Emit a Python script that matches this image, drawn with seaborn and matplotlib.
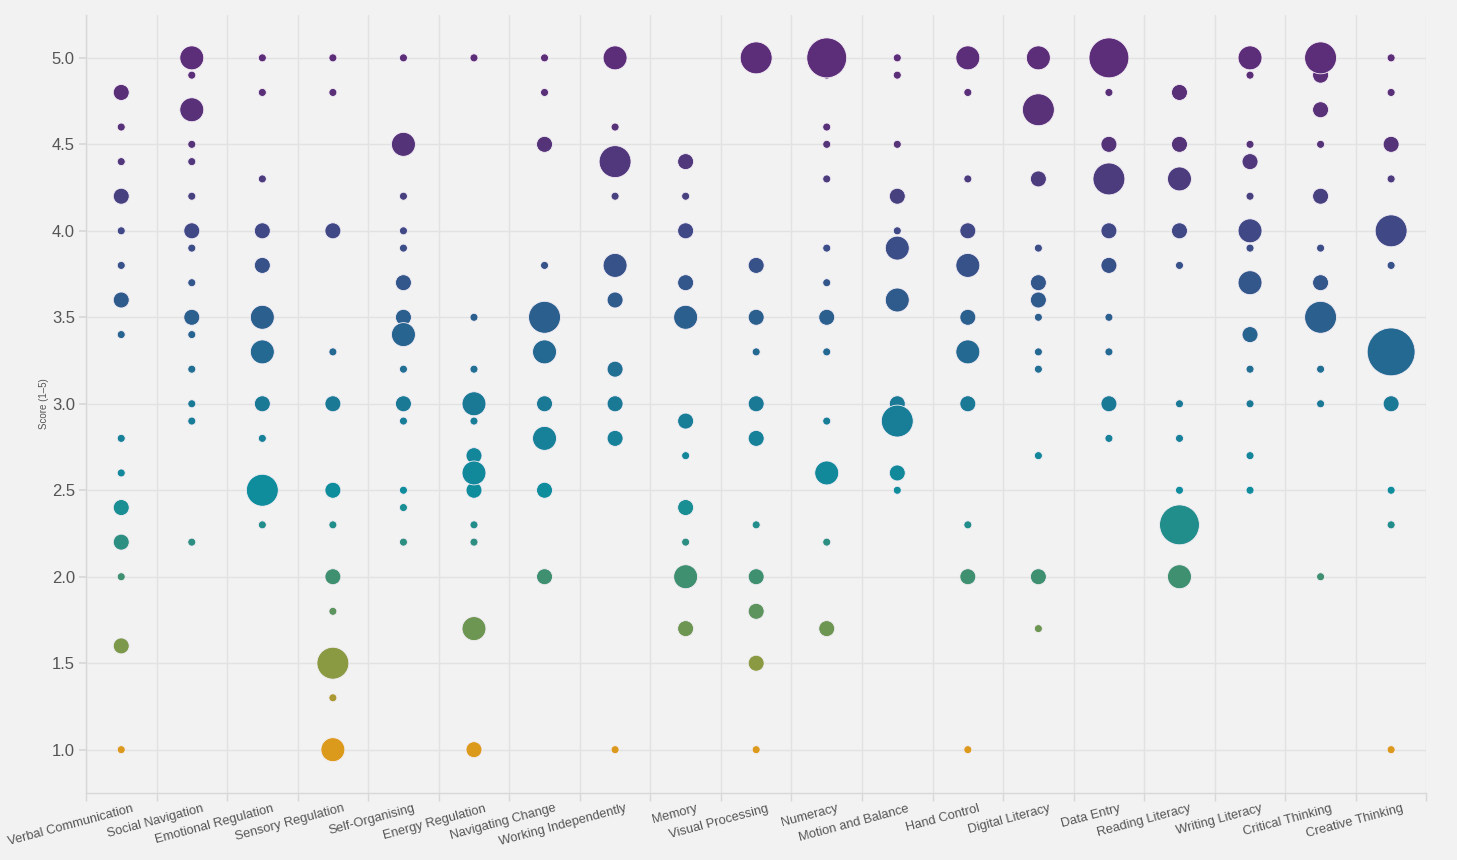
import matplotlib
matplotlib.use("Agg")
import matplotlib.pyplot as plt
import matplotlib.transforms as mtransforms
from matplotlib.colors import LinearSegmentedColormap
from matplotlib.ticker import FixedLocator
import pandas as pd
import seaborn as sns

# skill categories in x order
categories = [
    "Verbal Communication", "Social Navigation", "Emotional Regulation",
    "Sensory Regulation", "Self-Organising", "Energy Regulation",
    "Navigating Change", "Working Independently", "Memory",
    "Visual Processing", "Numeracy", "Motion and Balance", "Hand Control",
    "Digital Literacy", "Data Entry", "Reading Literacy", "Writing Literacy",
    "Critical Thinking", "Creative Thinking",
]

# scores seen in each category (one list per category)
scores = [
    [4.8, 4.6, 4.4, 4.2, 4.0, 3.8, 3.6, 3.4, 2.8, 2.6, 2.4, 2.2, 2.0, 1.6, 1.0],
    [5.0, 4.9, 4.7, 4.5, 4.4, 4.2, 4.0, 3.9, 3.7, 3.5, 3.4, 3.2, 3.0, 2.9, 2.2],
    [5.0, 4.8, 4.3, 4.0, 3.8, 3.5, 3.3, 3.0, 2.8, 2.5, 2.3],
    [5.0, 4.8, 4.0, 3.3, 3.0, 2.5, 2.3, 2.0, 1.8, 1.5, 1.3, 1.0],
    [5.0, 4.5, 4.2, 4.0, 3.9, 3.7, 3.5, 3.4, 3.2, 3.0, 2.9, 2.5, 2.4, 2.2],
    [5.0, 3.5, 3.2, 3.0, 2.9, 2.7, 2.6, 2.5, 2.3, 2.2, 1.7, 1.0],
    [5.0, 4.8, 4.5, 3.8, 3.5, 3.3, 3.0, 2.8, 2.5, 2.0],
    [5.0, 4.6, 4.4, 4.2, 3.8, 3.6, 3.2, 3.0, 2.8, 1.0],
    [4.4, 4.2, 4.0, 3.7, 3.5, 2.9, 2.7, 2.4, 2.2, 2.0, 1.7],
    [5.0, 3.8, 3.5, 3.3, 3.0, 2.8, 2.3, 2.0, 1.8, 1.5, 1.0],
    [5.0, 4.9, 4.6, 4.5, 4.3, 3.9, 3.7, 3.5, 3.3, 2.9, 2.6, 2.2, 1.7],
    [5.0, 4.9, 4.5, 4.2, 4.0, 3.9, 3.6, 3.0, 2.9, 2.6, 2.5],
    [5.0, 4.8, 4.3, 4.0, 3.8, 3.5, 3.3, 3.0, 2.3, 2.0, 1.0],
    [5.0, 4.7, 4.3, 3.9, 3.7, 3.6, 3.5, 3.3, 3.2, 2.7, 2.0, 1.7],
    [5.0, 4.8, 4.5, 4.3, 4.0, 3.8, 3.5, 3.3, 3.0, 2.8],
    [4.8, 4.5, 4.3, 4.0, 3.8, 3.0, 2.8, 2.5, 2.3, 2.0],
    [5.0, 4.9, 4.5, 4.4, 4.2, 4.0, 3.9, 3.7, 3.4, 3.2, 3.0, 2.7, 2.5],
    [5.0, 4.9, 4.7, 4.5, 4.2, 3.9, 3.7, 3.5, 3.2, 3.0, 2.0],
    [5.0, 4.8, 4.5, 4.3, 4.0, 3.8, 3.3, 3.0, 2.5, 2.3, 1.0],
]

# number of responses at each score (same shape as scores)
counts = [
    [2, 1, 1, 2, 1, 1, 2, 1, 1, 1, 2, 2, 1, 2, 1],
    [3, 1, 3, 1, 1, 1, 2, 1, 1, 2, 1, 1, 1, 1, 1],
    [1, 1, 1, 2, 2, 3, 3, 2, 1, 4, 1],
    [1, 1, 2, 1, 2, 2, 1, 2, 1, 4, 1, 3],
    [1, 3, 1, 1, 1, 2, 2, 3, 1, 2, 1, 1, 1, 1],
    [1, 1, 1, 3, 1, 2, 3, 2, 1, 1, 3, 2],
    [1, 1, 2, 1, 4, 3, 2, 3, 2, 2],
    [3, 1, 4, 1, 3, 2, 2, 2, 2, 1],
    [2, 1, 2, 2, 3, 2, 1, 2, 1, 3, 2],
    [4, 2, 2, 1, 2, 2, 1, 2, 2, 2, 1],
    [5, 1, 1, 1, 1, 1, 1, 2, 1, 1, 3, 1, 2],
    [1, 1, 1, 2, 1, 3, 3, 2, 4, 2, 1],
    [3, 1, 1, 2, 3, 2, 3, 2, 1, 2, 1],
    [3, 4, 2, 1, 2, 2, 1, 1, 1, 1, 2, 1],
    [5, 1, 2, 4, 2, 2, 1, 1, 2, 1],
    [2, 2, 3, 2, 1, 1, 1, 1, 5, 3],
    [3, 1, 1, 2, 1, 3, 1, 3, 2, 1, 1, 1, 1],
    [4, 2, 2, 1, 2, 1, 2, 4, 1, 1, 1],
    [1, 1, 2, 1, 4, 1, 6, 2, 1, 1, 1],
]

rows = []
for cat, sc, cn in zip(categories, scores, counts):
    for s, c in zip(sc, cn):
        rows.append({"skill": cat, "score": s, "count": c})
df = pd.DataFrame(rows)
# big bubbles drawn last so they sit on top of small neighbours
df = df.sort_values("count", kind="stable").reset_index(drop=True)

score_cmap = LinearSegmentedColormap.from_list("score", [
    (0.000, "#dc9a1c"),
    (0.125, "#8a9a42"),
    (0.250, "#3f9070"),
    (0.375, "#0f8d9c"),
    (0.500, "#1a7a96"),
    (0.625, "#2b5f8e"),
    (0.750, "#3f4a86"),
    (0.875, "#553378"),
    (1.000, "#5c2d78"),
])

# bubble radius grows linearly with count
size_map = {n: 33 * n * n for n in range(1, 7)}

sns.set_theme(style="whitegrid")
plt.rcParams["font.family"] = ["Liberation Sans", "DejaVu Sans"]

fig, ax = plt.subplots(figsize=(14.57, 8.6), dpi=100)
fig.patch.set_facecolor("#f2f2f2")
ax.set_facecolor("#f2f2f2")
fig.subplots_adjust(left=0.059, right=0.979, top=0.983, bottom=0.078)

sns.scatterplot(
    data=df, x="skill", y="score", hue="score", size="count",
    palette=score_cmap, hue_norm=(1, 5), sizes=size_map,
    edgecolor="#f4eef6", linewidth=0.6, alpha=1, legend=False, ax=ax,
)

n = len(categories)
ax.set_xlim(-0.5, n - 0.5)
ax.set_ylim(0.75, 5.25)
ax.set_yticks([1.0, 1.5, 2.0, 2.5, 3.0, 3.5, 4.0, 4.5, 5.0])
ax.set_yticklabels([f"{v:.1f}" for v in ax.get_yticks()])

ax.set_xticks(range(n))
ax.set_xticklabels(categories)
ax.xaxis.set_minor_locator(FixedLocator([i - 0.5 for i in range(n + 1)]))
ax.grid(False)
ax.grid(True, axis="y", which="major", color="#e2e2e2", linewidth=1)
ax.grid(True, axis="x", which="minor", color="#e2e2e2", linewidth=1)
ax.set_axisbelow(True)

ax.tick_params(axis="x", which="major", length=0, pad=7, labelsize=9.3, labelcolor="#555555")
ax.tick_params(axis="x", which="minor", length=6, color="#d8d8d8", bottom=True)
ax.tick_params(axis="y", length=5, pad=3, color="#d8d8d8", labelsize=12, labelcolor="#555555", left=True)

offset = mtransforms.ScaledTranslation(0.1, 0, fig.dpi_scale_trans)
for lbl in ax.get_xticklabels():
    lbl.set_rotation(15)
    lbl.set_ha("right")
    lbl.set_va("top")
    lbl.set_rotation_mode("anchor")
    lbl.set_transform(lbl.get_transform() + offset)

for side in ["top", "right"]:
    ax.spines[side].set_visible(False)
for side in ["left", "bottom"]:
    ax.spines[side].set_color("#d8d8d8")
    ax.spines[side].set_linewidth(1)

ax.set_xlabel("")
ax.set_ylabel("Score (1–5)", fontsize=7, color="#555555", labelpad=2)

fig.savefig("out.png", dpi=100, facecolor=fig.get_facecolor())
